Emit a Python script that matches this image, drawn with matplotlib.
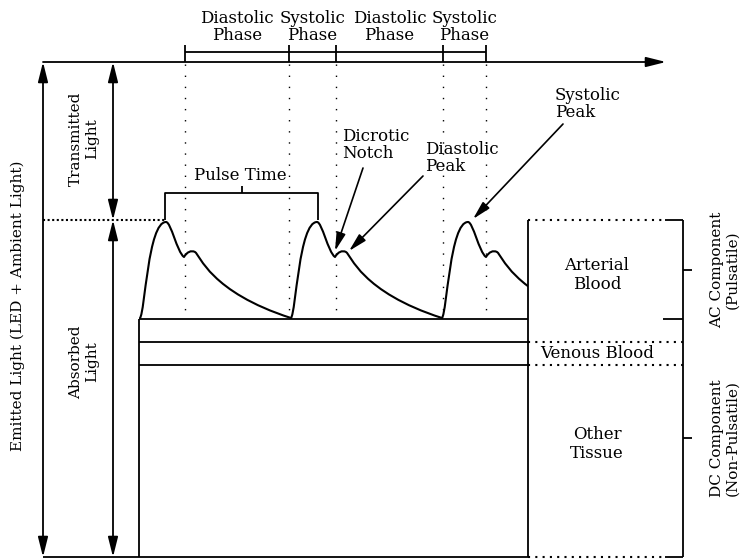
import matplotlib.pyplot as plt
from matplotlib.path import Path
from matplotlib.patches import PathPatch, FancyArrowPatch, Rectangle

plt.rcParams['font.family'] = ['DejaVu Serif', 'DejaVu Sans']

# --- diagram content (pixel coordinates, y grows downwards) ---
phase_labels = ["Diastolic\nPhase", "Systolic\nPhase", "Diastolic\nPhase", "Systolic\nPhase"]
phase_bounds = [185, 289, 336, 443, 486]

# start x of each PPG pulse
pulse_starts = [140, 291, 442]
# one pulse as cubic bezier control points, (dx from start, y)
pulse_shape = [
    (0, 318),
    (5, 312), (8, 222), (26, 222),      # rise to systolic peak
    (31, 222), (37, 252), (44, 257),    # fall to dicrotic notch
    (47, 252), (51, 250), (55, 252),    # diastolic peak
    (60, 255), (70, 292), (151, 318),   # diastolic run-off
]

layer_labels = ["Arterial\nBlood", "Venous Blood", "Other\nTissue"]
layer_label_y = [275, 354, 444]
layer_lines = [319, 342, 365]          # horizontal lines inside the tissue box

component_labels = ["AC Component\n(Pulsatile)", "DC Component\n(Non-Pulsatile)"]
component_spans = [(220, 319), (319, 557)]

annotations = [
    ("Dicrotic\nNotch", (342, 145), (363, 168), (335, 251)),
    ("Diastolic\nPeak", (425, 158), (423, 176), (349, 251)),
    ("Systolic\nPeak", (555, 104), (563, 124), (473, 219)),
]

LW = 1.3
FS = 12
FS_ROT = 11


def arrow(ax, p0, p1, style="-|>", lw=LW, scale=12):
    a = FancyArrowPatch(p0, p1, arrowstyle=style + ",head_length=1.0,head_width=0.25",
                        mutation_scale=scale, color="black", lw=lw,
                        shrinkA=0, shrinkB=0)
    ax.add_patch(a)


def line(ax, xs, ys, ls="-", lw=LW):
    ax.plot(xs, ys, color="black", lw=lw, ls=ls, solid_capstyle="butt")


def main():
    fig = plt.figure(figsize=(7.43, 5.59), dpi=100)
    ax = fig.add_axes([0, 0, 1, 1])
    ax.set_xlim(0, 743)
    ax.set_ylim(559, 0)
    ax.axis("off")

    # time axis and light intensity arrows
    arrow(ax, (43, 62), (666, 62))
    arrow(ax, (43, 62), (43, 557), style="<|-|>")
    arrow(ax, (113, 62), (113, 220), style="<|-|>")
    arrow(ax, (113, 220), (113, 557), style="<|-|>")
    line(ax, [43, 528], [557, 557])
    line(ax, [43, 165], [220, 220], ls=(0, (1, 1.2)), lw=1.5)

    ax.text(18, 306, "Emitted Light (LED + Ambient Light)", rotation=90,
            ha="center", va="center", fontsize=FS_ROT)
    ax.text(84, 139, "Transmitted\nLight", rotation=90, ha="center", va="center",
            fontsize=FS_ROT)
    ax.text(84, 362, "Absorbed\nLight", rotation=90, ha="center", va="center",
            fontsize=FS_ROT)

    # phase brackets
    line(ax, [phase_bounds[0], phase_bounds[-1]], [52, 52])
    for b in phase_bounds:
        line(ax, [b, b], [45, 62])
        line(ax, [b, b], [64, 318], ls=(0, (1, 7)), lw=1.0)
    for i, lab in enumerate(phase_labels):
        xc = (phase_bounds[i] + phase_bounds[i + 1]) / 2
        ax.text(xc, 27, lab, ha="center", va="center", fontsize=FS, linespacing=1.05)

    # tissue box
    line(ax, [139, 139], [319, 557])
    for y in layer_lines:
        line(ax, [139, 528], [y, y])
    line(ax, [528, 528], [220, 557])

    # PPG waveform
    codes = [Path.MOVETO] + [Path.CURVE4] * (len(pulse_shape) - 1)
    clip = Rectangle((0, 0), 528, 559, transform=ax.transData)
    for x0 in pulse_starts:
        verts = [(x0 + dx, y) for dx, y in pulse_shape]
        patch = PathPatch(Path(verts, codes), fill=False, lw=1.5, ec="black",
                          capstyle="round", joinstyle="round")
        ax.add_patch(patch)
        patch.set_clip_path(clip)

    # pulse time bracket
    p0 = pulse_starts[0] + 25
    p1 = pulse_starts[1] + 27
    line(ax, [p0, p0, p1, p1], [220, 193, 193, 220])
    line(ax, [(p0 + p1) / 2] * 2, [186, 193])
    ax.text(240, 176, "Pulse Time", ha="center", va="center", fontsize=FS)

    # annotations
    for text, tpos, a0, a1 in annotations:
        ax.text(tpos[0], tpos[1], text, ha="left", va="center", fontsize=FS,
                linespacing=1.05)
        arrow(ax, a0, a1, lw=1.2, scale=11)

    # right side layers
    dots = (0, (1, 2.5))
    line(ax, [528, 665], [220, 220], ls=dots, lw=1.5)
    line(ax, [665, 683], [220, 220])
    line(ax, [663, 683], [319, 319])
    line(ax, [528, 683], [342, 342], ls=dots, lw=1.5)
    line(ax, [528, 683], [365, 365], ls=dots, lw=1.5)
    line(ax, [528, 665], [557, 557], ls=dots, lw=1.5)
    line(ax, [665, 683], [557, 557])
    line(ax, [683, 683], [220, 557])

    for lab, y in zip(layer_labels, layer_label_y):
        ax.text(597, y, lab, ha="center", va="center", fontsize=FS, linespacing=1.1)

    for lab, (ya, yb) in zip(component_labels, component_spans):
        ym = (ya + yb) / 2
        line(ax, [683, 692], [ym, ym])
        ax.text(725, ym, lab, rotation=90, ha="center", va="center", fontsize=FS_ROT,
                linespacing=1.1)

    fig.savefig("out.png", dpi=100)


if __name__ == '__main__':
    main()
